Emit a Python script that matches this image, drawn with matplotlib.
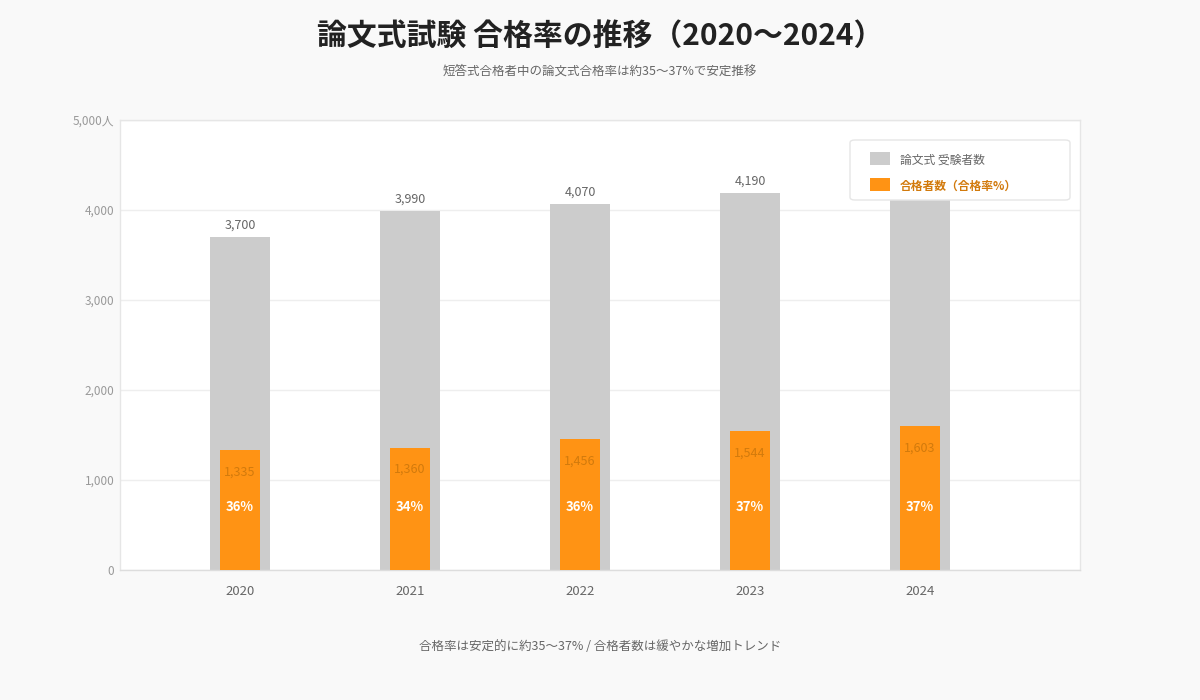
import numpy as np
import matplotlib.pyplot as plt
from matplotlib.patches import FancyBboxPatch, Rectangle

plt.rcParams['font.family'] = ['Noto Sans CJK JP', 'DejaVu Sans']

years = ['2020', '2021', '2022', '2023', '2024']
examinees = [3700, 3990, 4070, 4190, 4350]
passers = [1335, 1360, 1456, 1544, 1603]
rates = [36, 34, 36, 37, 37]
yticks = [0, 1000, 2000, 3000, 4000, 5000]
ytick_labels = ['0', '1,000', '2,000', '3,000', '4,000', '5,000人']

gray = '#cccccc'
orange = '#ff9314'

fig = plt.figure(figsize=(12, 7), dpi=100)
fig.patch.set_facecolor('#f9f9f9')
ax = fig.add_axes([0.1, 130 / 700, 0.8, 450 / 700])
ax.set_facecolor('white')

x = np.arange(len(years))
ax.bar(x, examinees, width=60 / 170, color=gray, zorder=2)
ax.bar(x, passers, width=40 / 170, color=orange, zorder=3)

px = 1000 / 90  # data units per pixel on y
for i in range(len(years)):
    if i < 4:
        ax.text(x[i], examinees[i] + 5 * px, f'{examinees[i]:,}', ha='center', va='bottom',
                fontsize=9, color='#666666', zorder=4)
    ax.text(x[i], passers[i] - 22 * px, f'{passers[i]:,}', ha='center', va='center',
            fontsize=9, color='#d27a0c', zorder=4)
    ax.text(x[i], 63 * px, f'{rates[i]}%', ha='center', va='center',
            fontsize=9.5, color='white', fontweight='bold', zorder=4)

ax.set_xlim(-120 / 170, 4 + 160 / 170)
ax.set_ylim(0, 5000)
ax.set_xticks(x)
ax.set_xticklabels(years, fontsize=9.5, color='#666666')
ax.set_yticks(yticks)
ax.set_yticklabels(ytick_labels, fontsize=8.5, color='#999999')
ax.tick_params(length=0, pad=11)
ax.tick_params(axis='y', pad=4)
ax.grid(axis='y', color='#eeeeee', linewidth=1, zorder=0)
for s in ax.spines.values():
    s.set_color('#e6e6e6')
    s.set_linewidth(1)
ax.spines['bottom'].set_color('#dddddd')

# legend box
fig.patches.append(FancyBboxPatch((850 / 1200, 500 / 700), 220 / 1200, 60 / 700,
                                  boxstyle='round,pad=0,rounding_size=0.004',
                                  transform=fig.transFigure, facecolor='white',
                                  edgecolor='#e6e6e6', linewidth=1, zorder=5))
fig.patches.append(Rectangle((870 / 1200, 535 / 700), 20 / 1200, 13 / 700,
                             transform=fig.transFigure, facecolor=gray, zorder=6))
fig.patches.append(Rectangle((870 / 1200, 509 / 700), 20 / 1200, 13 / 700,
                             transform=fig.transFigure, facecolor=orange, zorder=6))
fig.text(900 / 1200, 540 / 700, '論文式 受験者数', fontsize=8.5, color='#666666',
         va='center', zorder=7)
fig.text(900 / 1200, 514 / 700, '合格者数（合格率%）', fontsize=8.5, color='#d27a0c',
         fontweight='bold', va='center', zorder=7)

fig.text(0.5, 1 - 36 / 700, '論文式試験 合格率の推移（2020〜2024）', ha='center', va='center',
         fontsize=21.5, fontweight='bold', color='#222222')
fig.text(0.5, 1 - 71 / 700, '短答式合格者中の論文式合格率は約35〜37%で安定推移', ha='center',
         va='center', fontsize=9, color='#666666')
fig.text(0.5, 1 - 646 / 700, '合格率は安定的に約35〜37% / 合格者数は緩やかな増加トレンド',
         ha='center', va='center', fontsize=9, color='#666666')

fig.savefig('out.png', dpi=100, facecolor=fig.get_facecolor())
